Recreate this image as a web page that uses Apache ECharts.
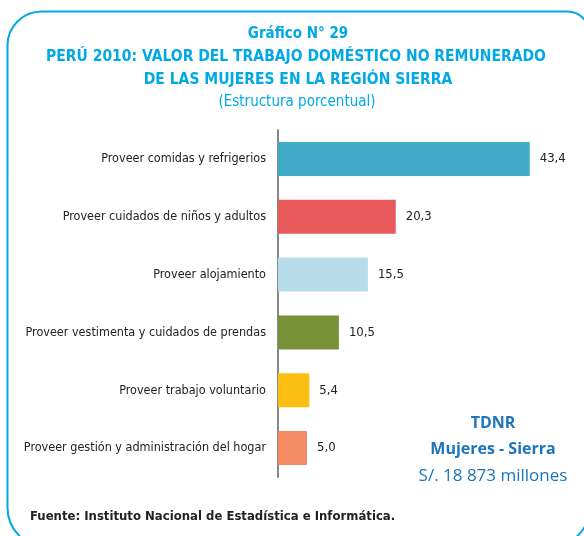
<!DOCTYPE html>
<html>
<head>
	<meta charset="utf-8">
	<title>Gráfico N° 29</title>
	<script src="https://cdn.jsdelivr.net/npm/echarts@6/dist/echarts.min.js"></script>
	<style>
		html, body { margin: 0; padding: 0; background: #fff; }
		#main { width: 584px; height: 536px; }
	</style>
</head>
<body>
	<div id="main"></div>
	<script type="text/javascript">
		// datos
		var categorias = [
			'Proveer comidas y refrigerios',
			'Proveer cuidados de niños y adultos',
			'Proveer alojamiento',
			'Proveer vestimenta y cuidados de prendas',
			'Proveer trabajo voluntario',
			'Proveer gestión y administración del hogar'
		];
		var valores = [43.4, 20.3, 15.5, 10.5, 5.4, 5.0];
		var colores = ['#3FAAC6', '#E8595B', '#B7DDEA', '#779239', '#FBBF14', '#F48B62'];

		var narrow = '"DejaVu Sans Condensed", sans-serif';
		var azul = '#00A9E6';
		var azulOscuro = '#1B75BC';

		function texto(str, x, y, font, color, align) {
			return {
				type: 'text', x: x, y: y, silent: true,
				style: { text: str, fill: color, font: font, textAlign: align || 'center', textVerticalAlign: 'middle' }
			};
		}

		var myChart = echarts.init(document.getElementById('main'));

		myChart.setOption({
			animation: false,
			graphic: [
				// marco redondeado
				{ type: 'rect', shape: { x: 7.5, y: 11.5, width: 582, height: 536, r: [34, 22, 40, 40] },
					style: { fill: 'none', stroke: azul, lineWidth: 2 }, silent: true },
				texto('Gráfico N° 29', 298, 34, 'bold 15px ' + narrow, azul),
				texto('PERÚ 2010: VALOR DEL TRABAJO DOMÉSTICO NO REMUNERADO', 296, 57, 'bold 15.5px ' + narrow, azul),
				texto('DE LAS MUJERES EN LA REGIÓN SIERRA', 298, 80, 'bold 15.5px ' + narrow, azul),
				texto('(Estructura porcentual)', 297, 102, 'normal 15px ' + narrow, azul),
				texto('Fuente: Instituto Nacional de Estadística e Informática.', 30, 517, 'bold 13px ' + narrow, '#222', 'left'),
				texto('TDNR', 493, 423, 'bold 16px "Open Sans", sans-serif', azulOscuro),
				texto('Mujeres - Sierra', 493, 449, 'bold 16px "Open Sans", sans-serif', azulOscuro),
				texto('S/. 18 873 millones', 493, 476, 'normal 17px "Open Sans", sans-serif', azulOscuro)
			],
			grid: { left: 278, top: 130, width: 290, height: 347, outerBoundsMode: 'none', containLabel: false },
			xAxis: {
				type: 'value', min: 0, max: 50, show: false
			},
			yAxis: {
				type: 'category', inverse: true, data: categorias,
				axisLine: { show: true, lineStyle: { color: '#888', width: 2 } },
				axisTick: { show: false },
				axisLabel: { color: '#222', fontSize: 12.5, fontFamily: narrow, margin: 12 }
			},
			series: [{
				type: 'bar',
				data: valores.map(function (v, i) {
					return { value: v, itemStyle: { color: colores[i] } };
				}),
				barWidth: 34,
				label: {
					show: true, position: 'right', distance: 10,
					color: '#222', fontSize: 13, fontFamily: narrow,
					formatter: function (p) { return p.value.toFixed(1).replace('.', ','); }
				}
			}]
		});
	</script>
</body>
</html>
